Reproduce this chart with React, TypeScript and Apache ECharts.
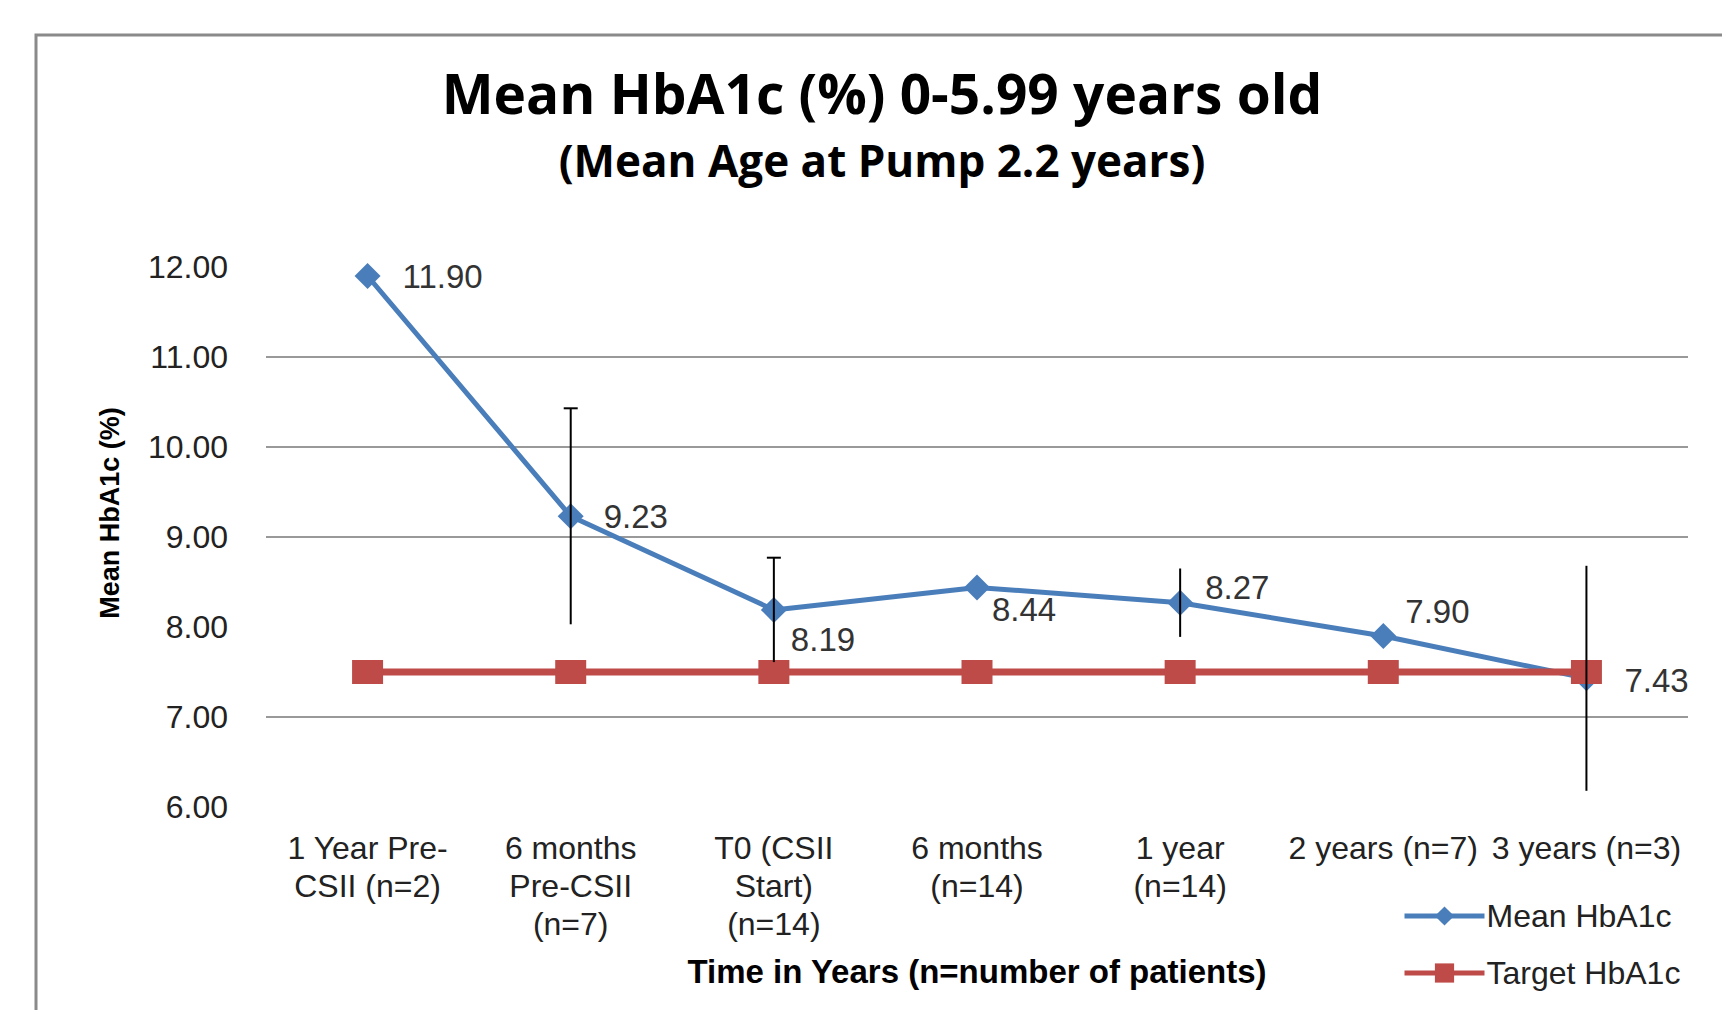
import React, { useEffect, useRef } from "react";
import * as echarts from "echarts";

const categories = [
  "1 Year Pre-\nCSII (n=2)",
  "6 months\nPre-CSII\n(n=7)",
  "T0 (CSII\nStart)\n(n=14)",
  "6 months\n(n=14)",
  "1 year\n(n=14)",
  "2 years (n=7)",
  "3 years (n=3)",
];
const meanValues = [11.9, 9.23, 8.19, 8.44, 8.27, 7.9, 7.43];
const targetValues = [7.5, 7.5, 7.5, 7.5, 7.5, 7.5, 7.5];
const errorHalf: (number | null)[] = [null, 1.2, 0.58, null, 0.38, null, 1.25];
const errorTopCap = [false, true, true, false, false, false, false];
const yTicks = [6, 7, 8, 9, 10, 11, 12];

const titleText = "Mean HbA1c (%) 0-5.99 years old";
const subtitleText = "(Mean Age at Pump 2.2 years)";
const yAxisName = "Mean HbA1c (%)";
const xAxisName = "Time in Years (n=number of patients)";
const seriesNames = ["Mean HbA1c", "Target HbA1c"];

// label placement (style)
const labelOffsets: [number, number][] = [
  [22, 0],
  [20, 0],
  [4, 30],
  [2, 22],
  [12, -15],
  [9, -25],
  [25, 2],
];

const BLUE = "#4A7EBB";
const RED = "#BE4B48";
const TXT = "#222";
const FONT = "'Liberation Sans', Arial, sans-serif";
const TITLE_FONT = "'Open Sans', Lato, sans-serif";

export default function App() {
  const ref = useRef<HTMLDivElement>(null);
  useEffect(() => {
    document.body.style.margin = "0";
    const chart = echarts.init(ref.current!, null, { renderer: "svg" });
    const errData = errorHalf
      .map((h, i) => (h == null ? null : [i, meanValues[i] - h, meanValues[i] + h, errorTopCap[i] ? 1 : 0]))
      .filter((d) => d !== null);

    const gridLineColors = yTicks.map((v) => (v === 7 || v === 9 || v === 10 || v === 11 ? "#999999" : "rgba(0,0,0,0)"));

    chart.setOption({
      animation: false,
      backgroundColor: "#fff",
      textStyle: { fontFamily: FONT },
      graphic: [
        {
          type: "rect",
          shape: { x: 36, y: 35, width: 1800, height: 1100 },
          style: { fill: "none", stroke: "#8a8a8a", lineWidth: 3 },
          z: 0,
        },
        {
          type: "text",
          x: 882,
          y: 92,
          style: {
            text: titleText,
            fontFamily: TITLE_FONT,
            fontWeight: "bold",
            fontSize: 55,
            fill: "#000",
            align: "center",
            verticalAlign: "middle",
          },
        },
        {
          type: "text",
          x: 882,
          y: 160,
          style: {
            text: subtitleText,
            fontFamily: TITLE_FONT,
            fontWeight: "bold",
            fontSize: 44,
            fill: "#000",
            align: "center",
            verticalAlign: "middle",
          },
        },
        {
          type: "text",
          x: 110,
          y: 513,
          rotation: Math.PI / 2,
          style: {
            text: yAxisName,
            fontFamily: FONT,
            fontWeight: "bold",
            fontSize: 27,
            fill: "#000",
            align: "center",
            verticalAlign: "middle",
          },
        },
      ],
      legend: {
        orient: "vertical",
        left: 1397,
        top: 895,
        itemWidth: 80,
        itemHeight: 24,
        itemGap: 25,
        data: seriesNames,
        lineStyle: { width: 5 },
        textStyle: { fontSize: 32, color: TXT, fontFamily: FONT, padding: [0, 0, 0, -3] },
      },
      grid: { left: 266, right: 34, top: 267, bottom: 203 },
      xAxis: {
        type: "category",
        data: categories,
        boundaryGap: true,
        axisLine: { show: false },
        axisTick: { show: false },
        axisLabel: {
          interval: 0,
          color: TXT,
          fontSize: 32,
          lineHeight: 38,
          margin: 22,
          fontFamily: FONT,
        },
        name: xAxisName,
        nameLocation: "middle",
        nameGap: 148,
        nameTextStyle: { fontSize: 33, fontWeight: "bold", color: "#000", fontFamily: FONT },
      },
      yAxis: {
        type: "value",
        min: 6,
        max: 12,
        interval: 1,
        axisLine: { show: false },
        axisTick: { show: false },
        axisLabel: {
          color: TXT,
          fontSize: 32,
          margin: 38,
          fontFamily: FONT,
          formatter: (v: number) => v.toFixed(2),
        },
        splitLine: { show: true, lineStyle: { color: gridLineColors, width: 2 } },
      },
      series: [
        {
          name: seriesNames[0],
          type: "line",
          data: meanValues.map((v, i) => ({
            value: v,
            label: {
              show: true,
              position: "right",
              distance: 0,
              offset: labelOffsets[i],
              align: "left",
              verticalAlign: "middle",
              fontSize: 33,
              color: "#333",
              fontFamily: FONT,
              formatter: (p: any) => p.value.toFixed(2),
            },
          })),
          symbol: "diamond",
          symbolSize: 26,
          lineStyle: { color: BLUE, width: 5 },
          itemStyle: { color: BLUE },
          z: 3,
        },
        {
          name: seriesNames[1],
          type: "line",
          data: targetValues,
          symbol: "rect",
          symbolSize: [31, 24],
          lineStyle: { color: RED, width: 7 },
          itemStyle: { color: RED },
          z: 4,
        },
        {
          type: "custom",
          name: "err",
          data: errData,
          z: 5,
          silent: true,
          renderItem: (params: any, api: any) => {
            const x = api.value(0);
            const lo = api.coord([x, api.value(1)]);
            const hi = api.coord([x, api.value(2)]);
            const children: any[] = [
              {
                type: "line",
                shape: { x1: lo[0], y1: lo[1], x2: hi[0], y2: hi[1] },
                style: { stroke: "#000", lineWidth: 2 },
              },
            ];
            if (api.value(3)) {
              children.push({
                type: "line",
                shape: { x1: hi[0] - 7, y1: hi[1], x2: hi[0] + 7, y2: hi[1] },
                style: { stroke: "#000", lineWidth: 2 },
              });
            }
            return { type: "group", children };
          },
        },
      ],
    });
    return () => chart.dispose();
  }, []);
  return <div ref={ref} style={{ width: 1722, height: 1010 }} />;
}
